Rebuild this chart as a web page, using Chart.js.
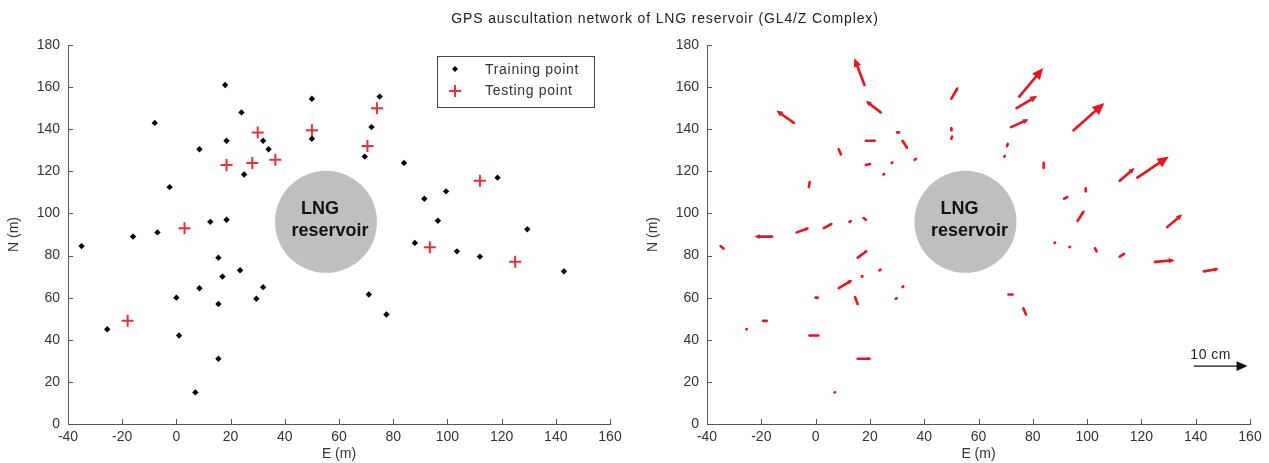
<!DOCTYPE html>
<html>
<head>
<meta charset="utf-8">
<script src="https://cdn.jsdelivr.net/npm/chart.js@4/dist/chart.umd.min.js"></script>
<style>
  body { margin: 0; background: #fff; }
  #wrap { position: relative; width: 1269px; height: 463px; overflow: hidden; }
  canvas { position: absolute; top: 0; }
  #leftChart { left: 0; }
  #rightChart { left: 635px; }
  #title {
    position: absolute; top: 10px; left: 665px; transform: translateX(-50%);
    font: 14px "Liberation Sans", Arial, sans-serif; letter-spacing: 0.85px;
    color: #222; white-space: nowrap;
  }
</style>
</head>
<body>
<div id="wrap">
  <canvas id="leftChart" width="635" height="463"></canvas>
  <canvas id="rightChart" width="634" height="463"></canvas>
  <div id="title">GPS auscultation network of LNG reservoir (GL4/Z Complex)</div>
</div>
<script>
// Axis ticks
const X_TICKS = [-40, -20, 0, 20, 40, 60, 80, 100, 120, 140, 160];
const Y_TICKS = [0, 20, 40, 60, 80, 100, 120, 140, 160, 180];

// Training points (E, N in m)
const trainE = [18, -8, 24, 18.5, 32, 34, 8.5, 25, -2.5, 12.5, 18.5, -7, -16, -35, 50, 50,
  75, 72, 69.5, 84, 118.5, 99.5, 91.5, 96.5, 129.5, 88, 15.5, 23.5, 17, 8.5, 32, 0,
  29.5, 15.5, -25.5, 1, 15.5, 7, 103.5, 112, 143, 71, 77.5];
const trainN = [161, 143, 148, 134.5, 134.5, 130.5, 130.5, 118.5, 112.5, 96, 97, 91, 89, 84.5, 154.5, 135.5,
  155.5, 141, 127, 124, 117, 110.5, 107, 96.5, 92.5, 86, 79, 73, 70, 64.5, 65, 60,
  59.5, 57, 45, 42, 31, 15, 82, 79.5, 72.5, 61.5, 52];

// Testing points (E, N in m)
const testE = [30, 18.5, 28, 36.5, 3, 50, 74, 70.5, 112, 93.5, -18, 125];
const testN = [138.5, 123, 124, 125.5, 93, 139.5, 150, 132, 115.5, 84, 49, 77];

// Displacement vectors: origin (E, N in m) and displacement (dE, dN in cm)
const arrowE = [18, -8, 24, 50, 18.5, 8.5, 18.5, 25, 28, 30, 32, 36.5, 50, 50, -2.5, -7, 3, -16,
  12.5, 18.5, -35, 75, 74, 72, 70.5, 69.5, 84, 95, 112, 118.5, 91.5, 99.5, 96.5, 129.5,
  15.5, 17, 23.5, 8.5, 32, 15.5, 0, 29.5, -18, -25.5, 1, 15.5, 7, 88, 93.5, 103.5, 112,
  125, 143, 71, 77.5];
const arrowN = [161, 143, 148, 154.5, 134.5, 130.5, 123, 118.5, 124, 138.5, 134.5, 125.5, 139.5, 135.5, 112.5, 91, 93, 89,
  96, 97, 84.5, 155.5, 150, 141, 132, 127, 124, 139.5, 115.5, 117, 107, 110.5, 96.5, 93.5,
  79, 70, 73, 64.5, 65, 57, 60, 59.5, 49, 45, 42, 31, 15, 86, 84, 82, 79.5,
  77, 72.5, 61.5, 52];
const arrowDE = [-1.9, -3.3, -2.8, 1.3, 2.0, 0.5, 1.0, 0.3, 0.3, 0.6, 1.0, 0.4, 0, 0.2, 0.2, 2.4, 1.7, -3.3,
  0.4, -0.6, 0.7, 4.5, 3.9, 3.3, 0.2, 0.2, 0, 5.8, 2.8, 5.9, 0.8, 0, 1.3, 2.8,
  1.9, 0.3, 0.4, 2.6, 0.3, -0.6, 0.6, 0.4, -0.9, 0.3, -2.0, 2.6, 0.3, 0.3, 0.3, -0.4, 1.0,
  3.7, 2.8, 1.0, -0.6];
const arrowDN = [6.5, 3.0, 2.8, 2.9, 0, -1.5, 0.3, 0.3, 0.3, 0, -2.0, 0.4, 0.8, 0.8, 1.5, 1.1, 1.2, 0,
  0.3, 0.6, -0.8, 6.9, 3.0, 1.9, 0.8, 0.4, -1.5, 6.6, 3.1, 5.1, 0.5, 1.0, 2.6, 3.1,
  1.8, 0.3, 0.3, 2.0, 0.4, 2.0, 0, 0.2, 0, 0.1, 0, 0, 0.1, 0.2, 0.2, 1.0, 0.8,
  0.4, 0.6, 0, 1.8];

// Reservoir and scale arrow
const RES_E = 55.2, RES_N = 96;
const SCALE_E = 139.5, SCALE_N = 27.5, SCALE_CM = 10;
const CM_TO_M = 1.96; // plotted metres per cm of displacement

const RED = '#e4161f';
const AXIS = '#555';
const FONT = '"Liberation Sans", Arial, sans-serif';

function pts(xs, ys) { return xs.map((x, i) => ({ x: x, y: ys[i] })); }

// Inward tick marks, left and bottom only
const innerTicks = {
  id: 'innerTicks',
  afterDraw(chart) {
    const { ctx, chartArea: a, scales: { x, y } } = chart;
    ctx.save();
    ctx.strokeStyle = AXIS;
    ctx.lineWidth = 1;
    ctx.beginPath();
    X_TICKS.forEach(v => { const p = Math.round(x.getPixelForValue(v)) + 0.5; ctx.moveTo(p, a.bottom); ctx.lineTo(p, a.bottom - 5); });
    Y_TICKS.forEach(v => { const p = Math.round(y.getPixelForValue(v)) + 0.5; ctx.moveTo(a.left, p); ctx.lineTo(a.left + 5, p); });
    ctx.stroke();
    ctx.restore();
  }
};

// "LNG reservoir" label inside the circle
const resLabel = {
  id: 'resLabel',
  afterDatasetsDraw(chart) {
    const { ctx, scales: { x, y } } = chart;
    const cx = x.getPixelForValue(RES_E), cy = y.getPixelForValue(RES_N);
    ctx.save();
    ctx.fillStyle = '#111';
    ctx.font = 'bold 18px ' + FONT;
    ctx.textAlign = 'center';
    ctx.textBaseline = 'middle';
    ctx.fillText('LNG', cx - 6, cy - 13);
    ctx.fillText('reservoir', cx + 4, cy + 9);
    ctx.restore();
  }
};

function drawArrow(ctx, x0, y0, x1, y1, color, width, maxHead) {
  const dx = x1 - x0, dy = y1 - y0, len = Math.hypot(dx, dy);
  ctx.strokeStyle = color;
  ctx.fillStyle = color;
  ctx.lineWidth = width;
  ctx.lineCap = 'round';
  if (len < 0.5) {
    ctx.beginPath(); ctx.arc(x0, y0, width * 0.9, 0, Math.PI * 2); ctx.fill();
    return;
  }
  const ux = dx / len, uy = dy / len;
  const hl = Math.min(maxHead, Math.max(2, len * 0.3)), hw = hl * 0.45;
  ctx.beginPath(); ctx.moveTo(x0, y0); ctx.lineTo(x1 - ux * hl * 0.6, y1 - uy * hl * 0.6); ctx.stroke();
  ctx.beginPath();
  ctx.moveTo(x1, y1);
  ctx.lineTo(x1 - ux * hl - uy * hw, y1 - uy * hl + ux * hw);
  ctx.lineTo(x1 - ux * hl + uy * hw, y1 - uy * hl - ux * hw);
  ctx.closePath();
  ctx.fill();
}

// Displacement arrows + 10 cm scale
const arrows = {
  id: 'arrows',
  afterDatasetsDraw(chart) {
    const { ctx, scales: { x, y } } = chart;
    ctx.save();
    arrowE.forEach((e, i) => {
      const n = arrowN[i];
      drawArrow(ctx,
        x.getPixelForValue(e), y.getPixelForValue(n),
        x.getPixelForValue(e + arrowDE[i] * CM_TO_M), y.getPixelForValue(n + arrowDN[i] * CM_TO_M),
        RED, 2.6, 12);
    });
    const sx0 = x.getPixelForValue(SCALE_E), sx1 = x.getPixelForValue(SCALE_E + SCALE_CM * CM_TO_M);
    const sy = y.getPixelForValue(SCALE_N);
    drawArrow(ctx, sx0, sy, sx1, sy, '#111', 1.3, 11);
    ctx.fillStyle = '#222';
    ctx.font = '14px ' + FONT;
    ctx.letterSpacing = '0.5px';
    ctx.textAlign = 'left';
    ctx.textBaseline = 'alphabetic';
    ctx.fillText('10 cm', sx0 - 4, sy - 7);
    ctx.restore();
  }
};

// Legend box inside the left plot
const legendBox = {
  id: 'legendBox',
  afterDraw(chart) {
    const ctx = chart.ctx;
    ctx.save();
    ctx.strokeStyle = '#444';
    ctx.lineWidth = 1;
    ctx.strokeRect(437.5, 56.5, 157, 51);
    // diamond
    ctx.fillStyle = '#000';
    ctx.beginPath();
    ctx.moveTo(455, 66); ctx.lineTo(458, 69); ctx.lineTo(455, 72); ctx.lineTo(452, 69);
    ctx.closePath(); ctx.fill();
    // cross
    ctx.strokeStyle = '#e8303a';
    ctx.lineWidth = 2;
    ctx.beginPath();
    ctx.moveTo(449, 91); ctx.lineTo(461, 91); ctx.moveTo(455, 85); ctx.lineTo(455, 97);
    ctx.stroke();
    ctx.fillStyle = '#333';
    ctx.font = '14px ' + FONT;
    ctx.letterSpacing = '0.7px';
    ctx.textBaseline = 'middle';
    ctx.fillText('Training point', 485, 70);
    ctx.fillText('Testing point', 485, 91);
    ctx.restore();
  }
};

function axes() {
  const tickFont = { family: FONT, size: 14 };
  return {
    x: {
      type: 'linear', min: -40, max: 160,
      afterBuildTicks: s => { s.ticks = X_TICKS.map(v => ({ value: v })); },
      afterFit: s => { s.height = 39; },
      grid: { display: false, drawTicks: false },
      border: { display: true, color: AXIS, width: 1 },
      ticks: { color: '#333', font: tickFont, padding: 5, maxRotation: 0, autoSkip: false },
      title: { display: true, text: 'E (m)', color: '#333', font: tickFont, padding: 0 }
    },
    y: {
      type: 'linear', min: 0, max: 180,
      afterBuildTicks: s => { s.ticks = Y_TICKS.map(v => ({ value: v })); },
      afterFit: s => { s.width = 62; },
      grid: { display: false, drawTicks: false },
      border: { display: true, color: AXIS, width: 1 },
      ticks: { color: '#333', font: tickFont, padding: 8, autoSkip: false },
      title: { display: true, text: 'N (m)', color: '#333', font: tickFont, padding: 0 }
    }
  };
}

const common = {
  responsive: false,
  animation: false,
  events: [],
  plugins: { legend: { display: false }, tooltip: { enabled: false } }
};

function reservoir() {
  return {
    type: 'bubble',
    data: [{ x: RES_E, y: RES_N, r: 51 }],
    backgroundColor: '#bfbfbf',
    borderWidth: 0
  };
}

new Chart(document.getElementById('leftChart'), {
  type: 'scatter',
  data: {
    datasets: [
      reservoir(),
      {
        label: 'Training point',
        data: pts(trainE, trainN),
        pointStyle: 'rectRot', pointRadius: 3.2,
        backgroundColor: '#000', borderColor: '#000', borderWidth: 0
      },
      {
        label: 'Testing point',
        data: pts(testE, testN),
        pointStyle: 'cross', pointRadius: 6,
        borderColor: '#e8303a', borderWidth: 2
      }
    ]
  },
  options: Object.assign({}, common, {
    layout: { autoPadding: false, padding: { left: 6, right: 25, top: 45, bottom: 0 } },
    scales: axes()
  }),
  plugins: [innerTicks, resLabel, legendBox]
});

new Chart(document.getElementById('rightChart'), {
  type: 'scatter',
  data: { datasets: [reservoir()] },
  options: Object.assign({}, common, {
    layout: { autoPadding: false, padding: { left: 10, right: 19, top: 45, bottom: 0 } },
    scales: axes()
  }),
  plugins: [innerTicks, resLabel, arrows]
});
</script>
</body>
</html>
